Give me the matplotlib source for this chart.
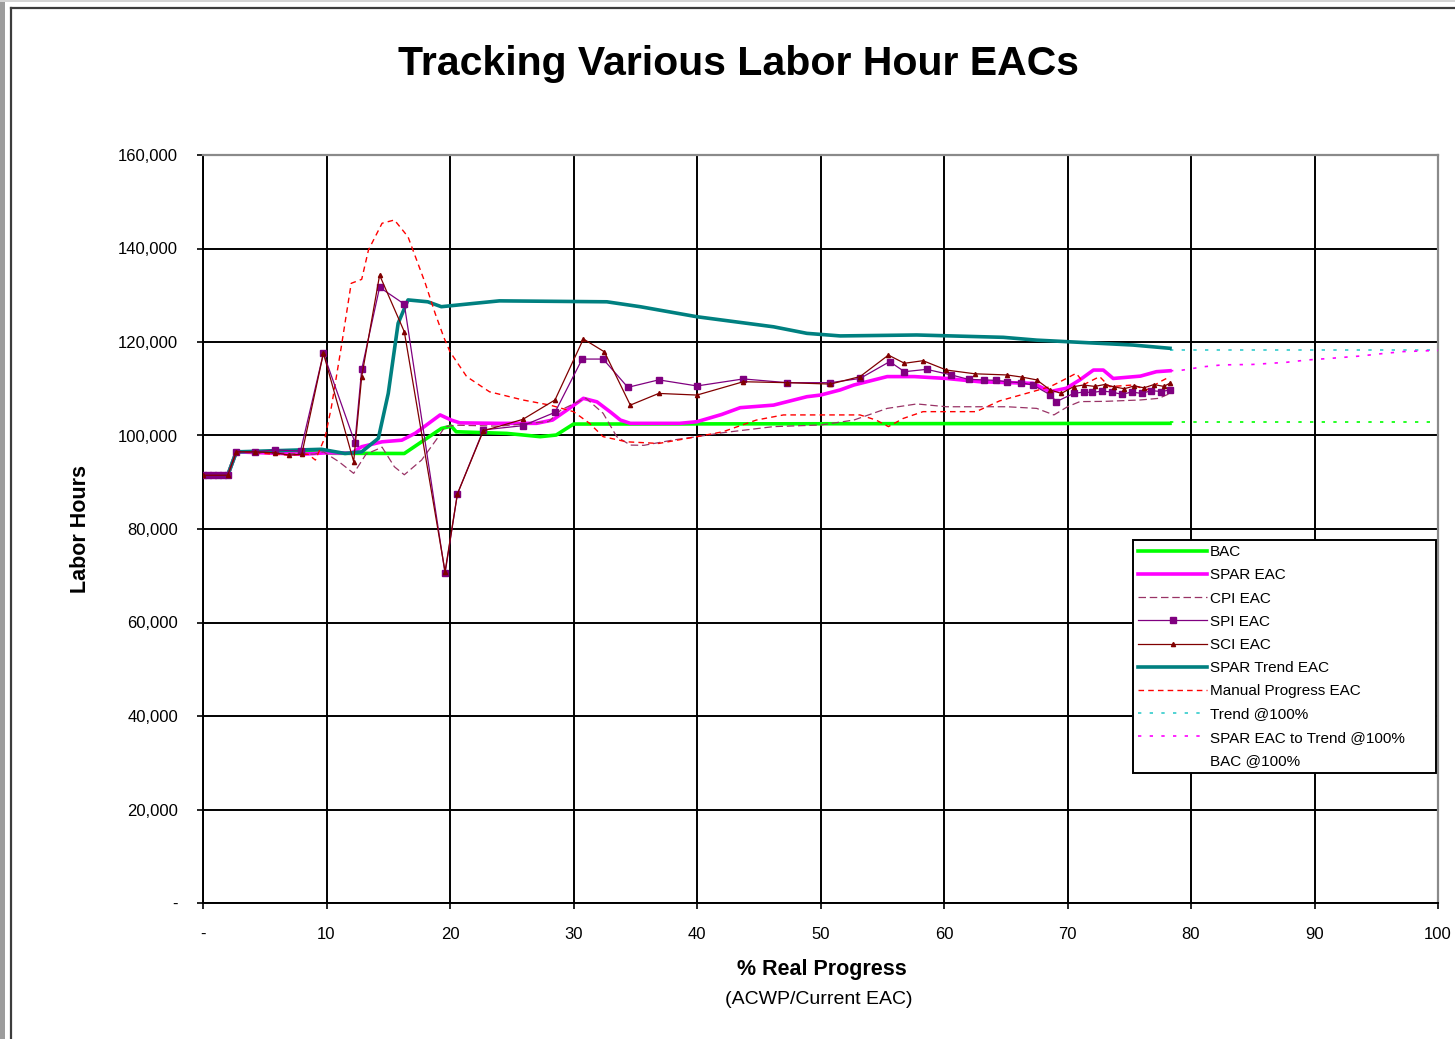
import matplotlib
matplotlib.use("Agg")
import matplotlib.pyplot as plt
from matplotlib.lines import Line2D
from matplotlib.patches import Rectangle

plt.rcParams['font.family'] = ['Liberation Sans', 'DejaVu Sans']

# --- series data (labor hours vs % real progress) ---
bac_x = [0, 2.0, 2.7, 9.5, 10.5, 16.3, 17.7, 19.3, 20.1, 20.5, 24.6, 27.3, 28.6, 30.0, 78.3]
bac_y = [91500, 91500, 96500, 96500, 96200, 96150, 98650, 101500, 102000, 100800, 100450,
         99750, 100100, 102450, 102600]

spar_x = [0, 2.0, 2.7, 8.0, 10.0, 12.0, 12.85, 14.5, 16.1, 17.2, 19.2, 20.1, 20.8, 24.0, 27.0,
          28.3, 29.5, 30.8, 31.9, 33.0, 33.8, 34.6, 38.6, 40.0, 42.0, 43.5, 46.2, 48.9, 50.0,
          51.6, 52.7, 55.4, 57.6, 60.2, 62.9, 67.2, 68.6, 69.9, 71.0, 72.1, 72.9, 73.7, 75.9,
          77.2, 78.3]
spar_y = [91500, 91500, 96500, 96000, 96300, 96200, 97600, 98650, 99000, 100500, 104400,
          103300, 102700, 102600, 102600, 103300, 105500, 107950, 107200, 105000, 103300,
          102600, 102600, 102950, 104500, 105950, 106500, 108300, 108650, 109750, 110800,
          112600, 112600, 112200, 111500, 111150, 109400, 110100, 111900, 114000, 114000,
          112200, 112700, 113650, 113850]

cpi_x = [0, 2.0, 2.7, 9.0, 9.75, 11.0, 12.2, 13.2, 14.5, 15.5, 16.3, 17.7, 19.0, 19.6, 20.5,
         24.0, 28.0, 29.0, 31.0, 32.4, 33.5, 34.6, 35.7, 38.1, 40.0, 42.1, 46.2, 50.0, 52.7,
         55.4, 57.8, 60.2, 65.1, 67.5, 68.9, 70.0, 71.0, 73.0, 75.9, 77.4, 78.3]
cpi_y = [91500, 91500, 96500, 96000, 96500, 94400, 91900, 96000, 97500, 93300, 91600, 94750,
         99500, 101900, 102200, 102000, 103000, 105500, 108000, 104750, 99750, 97950, 97900,
         99050, 99750, 100600, 101900, 102250, 103300, 105800, 106750, 106150, 106150, 105800,
         104400, 106150, 107250, 107300, 107600, 107950, 109000]

spi_x = [0, 0.4, 0.8, 1.2, 1.6, 2.0, 2.7, 4.2, 5.8, 7.9, 9.75, 12.3, 12.85, 14.3, 16.3, 19.6,
         20.6, 22.7, 25.9, 28.5, 30.7, 32.4, 34.4, 36.9, 40.0, 43.75, 47.3, 50.8, 53.2, 55.6,
         56.8, 58.6, 60.6, 62.0, 63.2, 64.2, 65.1, 66.2, 67.2, 68.6, 69.1, 70.5, 71.3, 72.0,
         72.8, 73.6, 74.4, 75.2, 76.0, 76.8, 77.6, 78.3]
spi_y = [91500, 91500, 91500, 91500, 91500, 91500, 96500, 96500, 96900, 96700, 117600, 98500,
         114150, 131700, 128100, 70500, 87500, 101200, 102100, 104950, 116350, 116350, 110300,
         111900, 110600, 112100, 111300, 111300, 112200, 115800, 113650, 114150, 112950,
         112000, 111900, 111800, 111500, 111300, 110800, 108700, 107250, 109000, 109300,
         109200, 109500, 109300, 108800, 109300, 109000, 109600, 109400, 109750]

sci_x = [0, 2.0, 2.7, 4.2, 5.8, 7.0, 8.0, 9.75, 12.2, 12.85, 14.3, 16.3, 19.6, 20.6, 22.7,
         25.9, 28.5, 30.8, 32.5, 34.6, 36.9, 40.0, 43.75, 47.3, 50.8, 53.2, 55.5, 56.8, 58.3,
         60.2, 62.5, 65.1, 66.3, 67.5, 68.6, 69.5, 70.5, 71.3, 72.2, 73.0, 73.8, 74.6, 75.4,
         76.2, 77.0, 77.8, 78.3]
sci_y = [91500, 91500, 96500, 96500, 96300, 95800, 96000, 117600, 94400, 112600, 134300,
         122200, 70900, 87500, 101000, 103450, 107600, 120650, 117900, 106500, 109000, 108650,
         111500, 111300, 111000, 112600, 117200, 115450, 116000, 114000, 113200, 112950,
         112500, 111900, 109750, 109000, 110450, 110800, 110500, 110900, 110400, 110000,
         110600, 110200, 110900, 110500, 111200]

trend_x = [0, 2.0, 2.7, 9.6, 11.5, 12.85, 14.2, 15.0, 15.8, 16.6, 18.2, 19.3, 21.9, 24.0, 32.7,
           35.4, 40.0, 46.2, 48.9, 51.6, 57.8, 64.8, 67.5, 71.6, 75.3, 78.3]
trend_y = [91500, 91500, 96500, 97050, 96150, 96500, 99400, 109000, 124000, 129000, 128600,
           127550, 128250, 128800, 128600, 127550, 125400, 123250, 121850, 121300, 121500,
           121000, 120400, 119850, 119350, 118650]

manual_x = [0, 2.0, 2.7, 4.2, 5.8, 7.0, 8.5, 9.1, 9.9, 10.4, 11.2, 12.0, 12.85, 13.4, 14.5,
            15.5, 16.6, 18.0, 18.8, 19.5, 20.0, 21.35, 23.2, 25.9, 28.1, 30.0, 31.3, 32.4,
            34.3, 36.9, 40.0, 42.1, 44.8, 47.0, 50.0, 53.2, 54.5, 55.5, 56.7, 58.3, 62.6, 64.5,
            67.2, 68.6, 69.4, 70.7, 71.4, 72.6, 73.4, 75.3, 76.4, 77.5, 78.3]
manual_y = [91500, 91500, 96500, 96300, 96000, 95800, 96000, 94750, 99750, 106150, 119000,
            132550, 133400, 139700, 145400, 146100, 142500, 132550, 126100, 121000, 117900,
            112600, 109350, 107600, 106500, 105100, 102600, 99750, 98650, 98300, 99750, 100800,
            103300, 104400, 104400, 104400, 103300, 101900, 103650, 105100, 105100, 107400,
            109400, 110450, 111500, 113300, 111000, 112600, 110450, 110800, 109750, 111500,
            112600]

trend100_x = [78.3, 100]
trend100_y = [118200, 118200]

spar_to_trend_x = [78.3, 79.1, 81.0, 82.5, 85.0, 87.7, 89.4, 91.3, 93.7, 95.6, 97.2, 100]
spar_to_trend_y = [113850, 113900, 114700, 115100, 115200, 115650, 116150, 116500, 117000,
                   117550, 117950, 118200]

bac100_x = [78.3, 100]
bac100_y = [102800, 102800]

x_ticks = list(range(0, 101, 10))
y_ticks = list(range(0, 160001, 20000))

fig = plt.figure(figsize=(14.55, 10.39), dpi=100)
W, H = 1455, 1039

# chart frame
fig.patches.append(Rectangle((0, 0), 5 / W, 1, transform=fig.transFigure,
                             facecolor='#9c9c9c', edgecolor='none'))
fig.patches.append(Rectangle((0, 1 - 2 / H), 1, 2 / H, transform=fig.transFigure,
                             facecolor='#d4d4d4', edgecolor='none'))
fig.lines.append(Line2D([11 / W, 11 / W], [0, 1 - 8 / H], transform=fig.transFigure,
                        color='#3c3c3c', lw=1.6))
fig.lines.append(Line2D([11 / W, 1], [1 - 8 / H, 1 - 8 / H], transform=fig.transFigure,
                        color='#3c3c3c', lw=1.6))

ax = fig.add_axes([203 / W, 1 - 903 / H, (1438 - 203) / W, (903 - 155) / H])

ax.plot(bac_x, bac_y, color='#00ff00', lw=2.6, label='BAC', zorder=3)
ax.plot(spar_x, spar_y, color='#ff00ff', lw=2.6, label='SPAR EAC', zorder=3)
ax.plot(cpi_x, cpi_y, color='#993366', lw=0.9, dashes=(6, 3), label='CPI EAC', zorder=4)
ax.plot(spi_x, spi_y, color='#800080', lw=0.9, marker='s', markersize=5,
        label='SPI EAC', zorder=5)
ax.plot(sci_x, sci_y, color='#800000', lw=0.9, marker='^', markersize=3,
        label='SCI EAC', zorder=6)
ax.plot(trend_x, trend_y, color='#008080', lw=2.6, label='SPAR Trend EAC', zorder=4)
ax.plot(manual_x, manual_y, color='#ff0000', lw=1.0, dashes=(4, 3),
        label='Manual Progress EAC', zorder=4)
ax.plot(trend100_x, trend100_y, color='#33cccc', lw=1.2, dashes=(2, 5),
        label='Trend @100%', zorder=3)
ax.plot(spar_to_trend_x, spar_to_trend_y, color='#ff00ff', lw=1.2, dashes=(2, 5),
        label='SPAR EAC to Trend @100%', zorder=3)
ax.plot(bac100_x, bac100_y, color='#00ff00', lw=1.2, dashes=(2, 5), zorder=3)

ax.set_xlim(0, 100)
ax.set_ylim(0, 160000)
ax.set_xticks(x_ticks)
ax.set_xticklabels(['-' if v == 0 else str(v) for v in x_ticks])
ax.set_yticks(y_ticks)
ax.set_yticklabels(['-' if v == 0 else f'{v:,}' for v in y_ticks])
ax.tick_params(axis='both', direction='out', length=4, width=1.2, colors='black',
               labelsize=12)
ax.tick_params(axis='x', pad=13)
ax.tick_params(axis='y', pad=14)
ax.grid(True, color='black', lw=1.4)
ax.set_axisbelow(True)
for side in ['left', 'bottom']:
    ax.spines[side].set_color('black')
    ax.spines[side].set_linewidth(1.4)
for side in ['top', 'right']:
    ax.spines[side].set_color('#8a8a8a')
    ax.spines[side].set_linewidth(1.6)

fig.text(738 / W, 1 - 64 / H, 'Tracking Various Labor Hour EACs', fontsize=29.5,
         fontweight='bold', ha='center', va='center')
fig.text(80 / W, 1 - 529 / H, 'Labor Hours', fontsize=15.5, fontweight='bold',
         rotation=90, ha='center', va='center')
fig.text(822 / W, 1 - 970 / H, '% Real Progress', fontsize=15.5, fontweight='bold',
         ha='center', va='center')
fig.text(819 / W, 1 - 999 / H, '(ACWP/Current EAC)', fontsize=14, ha='center', va='center')

handles, labels = ax.get_legend_handles_labels()
handles.append(Line2D([], [], linestyle='None'))
labels.append('BAC @100%')
leg = fig.legend(handles, labels, loc='upper left',
                 bbox_to_anchor=(1133 / W, 1 - 541 / H, (1436 - 1133) / W, 0.001),
                 mode='expand', fontsize=11, handlelength=4.5, handletextpad=0.2,
                 labelspacing=0.6, borderpad=0.35, borderaxespad=0, fancybox=False,
                 framealpha=1, edgecolor='black')
leg.get_frame().set_linewidth(1.4)

fig.savefig('out.png', dpi=100)
